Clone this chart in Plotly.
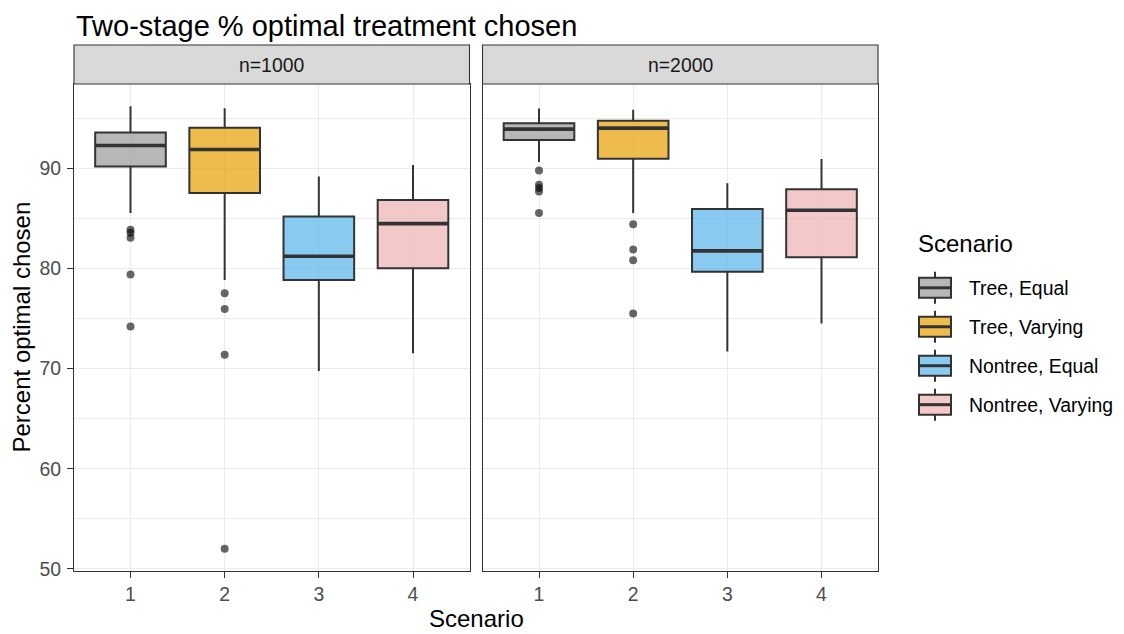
import plotly.graph_objects as go

# ---------------- data ----------------
title_text = "Two-stage % optimal treatment chosen"
x_title = "Scenario"
y_title = "Percent optimal chosen"
legend_title = "Scenario"
facets = ["n=1000", "n=2000"]
scenarios = [1, 2, 3, 4]
series_names = ["Tree, Equal", "Tree, Varying", "Nontree, Equal", "Nontree, Varying"]
fill_colors = ["rgba(153,153,153,0.7)", "rgba(230,159,0,0.7)",
               "rgba(86,180,233,0.7)", "rgba(236,176,178,0.7)"]
y_ticks = [50, 60, 70, 80, 90]
y_minor = [55, 65, 75, 85, 95]

lower_n1000 = [85.54, 78.83, 69.76, 71.52]
q1_n1000 = [90.18, 87.53, 78.83, 80.02]
median_n1000 = [92.27, 91.87, 81.22, 84.47]
q3_n1000 = [93.57, 94.03, 85.17, 86.83]
upper_n1000 = [96.2, 96.0, 89.18, 90.32]
outliers_n1000 = [[83.87, 83.55, 83.05, 79.4, 74.2],
                  [77.53, 75.94, 71.39, 52.0], [], []]

lower_n2000 = [90.62, 85.54, 71.7, 74.5]
q1_n2000 = [92.81, 90.95, 79.66, 81.12]
median_n2000 = [93.9, 94.0, 81.75, 85.8]
q3_n2000 = [94.5, 94.73, 85.94, 87.89]
upper_n2000 = [95.96, 95.83, 88.49, 90.92]
outliers_n2000 = [[89.78, 88.36, 88.03, 87.69, 85.54],
                  [84.4, 81.88, 80.82, 75.5], [], []]

panels = [
    (lower_n1000, q1_n1000, median_n1000, q3_n1000, upper_n1000, outliers_n1000),
    (lower_n2000, q1_n2000, median_n2000, q3_n2000, upper_n2000, outliers_n2000),
]

# ---------------- layout constants (page pixels) ----------------
W, H = 1124, 634
OFF = 8                                # default page body margin
PL, PR, PT, PB = 74, 878, 84, 571.5    # plotting region in page pixels
GAP = 13
BOX_W = 0.75
FONT = "Liberation Sans, Arial, sans-serif"
LINE = "#333333"
GRID = "#ebebeb"


def px_x(p):
    return (p - PL) / (PR - PL)


def px_y(p):
    return (PB - p) / (PB - PT)


panel_w = (PR - PL - GAP) / 2
domains = [[0, px_x(PL + panel_w)], [px_x(PL + panel_w + GAP), 1]]

all_vals = []
for lo, q1, me, q3, up, outl in panels:
    all_vals += lo + up + [v for o in outl for v in o]
ymin, ymax = min(all_vals), max(all_vals)
pad = 0.05 * (ymax - ymin)
y_range = [ymin - pad, ymax + pad]

fig = go.Figure()

for pi, (lo, q1, me, q3, up, outl) in enumerate(panels):
    xa = "x" if pi == 0 else "x2"
    ya = "y" if pi == 0 else "y2"
    for si, s in enumerate(scenarios):
        fig.add_trace(go.Box(
            x=[s], q1=[q1[si]], median=[me[si]], q3=[q3[si]],
            lowerfence=[lo[si]], upperfence=[up[si]],
            width=BOX_W, whiskerwidth=0, boxpoints=False,
            fillcolor=fill_colors[si], line=dict(color=LINE, width=2),
            name=series_names[si], showlegend=False, xaxis=xa, yaxis=ya,
        ))
        fig.add_trace(go.Scatter(
            x=[s - BOX_W / 2, s + BOX_W / 2], y=[me[si], me[si]],
            mode="lines", line=dict(color=LINE, width=3.6),
            showlegend=False, hoverinfo="skip", xaxis=xa, yaxis=ya,
        ))
        if outl[si]:
            fig.add_trace(go.Scatter(
                x=[s] * len(outl[si]), y=outl[si], mode="markers",
                marker=dict(color="rgba(0,0,0,0.6)", size=8, line=dict(width=0)),
                showlegend=False, xaxis=xa, yaxis=ya,
            ))

common_x = dict(range=[0.4, 4.6], tickvals=scenarios,
                ticktext=[str(s) for s in scenarios],
                showgrid=True, gridcolor=GRID, gridwidth=1.3,
                ticks="outside", ticklen=6, tickwidth=1.1, tickcolor=LINE,
                tickfont=dict(size=19.4, color="#4d4d4d", family=FONT),
                showline=True, mirror=True, linecolor=LINE, linewidth=1.1,
                zeroline=False)
common_y = dict(range=y_range, tickvals=y_ticks, ticktext=[str(t) for t in y_ticks],
                showgrid=True, gridcolor=GRID, gridwidth=1.3,
                minor=dict(tickvals=y_minor, showgrid=True, gridcolor=GRID,
                           gridwidth=0.7, ticks=""),
                showline=True, mirror=True, linecolor=LINE, linewidth=1.1,
                zeroline=False, domain=[0, 1])

shapes = []
annotations = []
strip_h = px_y(45) - 1
for pi, f in enumerate(facets):
    d = domains[pi]
    shapes.append(dict(type="rect", xref="paper", yref="paper",
                       x0=d[0], x1=d[1], y0=1, y1=1 + strip_h,
                       fillcolor="#d9d9d9", line=dict(color=LINE, width=1.1),
                       layer="above"))
    annotations.append(dict(text=f, xref="paper", yref="paper",
                            x=(d[0] + d[1]) / 2, y=1 + strip_h / 2,
                            xanchor="center", yanchor="middle", showarrow=False,
                            font=dict(size=19.4, color="#1a1a1a", family=FONT)))

# title and axis titles
annotations.append(dict(text=title_text, xref="paper", yref="paper",
                        x=px_x(74), y=px_y(OFF), xanchor="left", yanchor="top",
                        showarrow=False, font=dict(size=29, color="black", family=FONT)))
annotations.append(dict(text=x_title, xref="paper", yref="paper",
                        x=0.5, y=px_y(619), xanchor="center", yanchor="middle",
                        showarrow=False, font=dict(size=24, color="black", family=FONT)))
annotations.append(dict(text=y_title, xref="paper", yref="paper",
                        x=px_x(21), y=0.5, xanchor="center", yanchor="middle",
                        textangle=-90, showarrow=False,
                        font=dict(size=24, color="black", family=FONT)))

# legend (ggplot-style keys)
annotations.append(dict(text=legend_title, xref="paper", yref="paper",
                        x=px_x(916), y=px_y(244), xanchor="left", yanchor="middle",
                        showarrow=False, font=dict(size=24, color="black", family=FONT)))
key_x0, key_x1 = 919, 951
for si, name in enumerate(series_names):
    cy = 288 + 39 * si
    cx = (key_x0 + key_x1) / 2
    shapes.append(dict(type="line", xref="paper", yref="paper",
                       x0=px_x(cx), x1=px_x(cx), y0=px_y(cy - 16), y1=px_y(cy + 16),
                       line=dict(color=LINE, width=2)))
    shapes.append(dict(type="rect", xref="paper", yref="paper",
                       x0=px_x(key_x0), x1=px_x(key_x1),
                       y0=px_y(cy - 10), y1=px_y(cy + 10),
                       fillcolor="white", line=dict(width=0)))
    shapes.append(dict(type="rect", xref="paper", yref="paper",
                       x0=px_x(key_x0), x1=px_x(key_x1),
                       y0=px_y(cy - 10), y1=px_y(cy + 10),
                       fillcolor=fill_colors[si], line=dict(color=LINE, width=2)))
    shapes.append(dict(type="line", xref="paper", yref="paper",
                       x0=px_x(key_x0), x1=px_x(key_x1), y0=px_y(cy), y1=px_y(cy),
                       line=dict(color=LINE, width=3)))
    annotations.append(dict(text=name, xref="paper", yref="paper",
                            x=px_x(967), y=px_y(cy), xanchor="left", yanchor="middle",
                            showarrow=False,
                            font=dict(size=19.4, color="black", family=FONT)))

fig.update_layout(
    width=W - OFF, height=H - OFF,
    margin=dict(l=PL - OFF, r=W - PR, t=PT - OFF, b=H - PB, autoexpand=False),
    paper_bgcolor="white", plot_bgcolor="white",
    showlegend=False, boxmode="overlay",
    font=dict(family=FONT),
    xaxis=dict(domain=domains[0], anchor="y", **common_x),
    xaxis2=dict(domain=domains[1], anchor="y2", **common_x),
    yaxis=dict(anchor="x", ticks="outside", ticklen=6, tickwidth=1.1,
               tickcolor=LINE, ticklabelstandoff=2,
               tickfont=dict(size=19.4, color="#4d4d4d", family=FONT), **common_y),
    yaxis2=dict(anchor="x2", matches="y", showticklabels=False, ticks="", **common_y),
    shapes=shapes, annotations=annotations,
)

fig.write_html("out.html")
